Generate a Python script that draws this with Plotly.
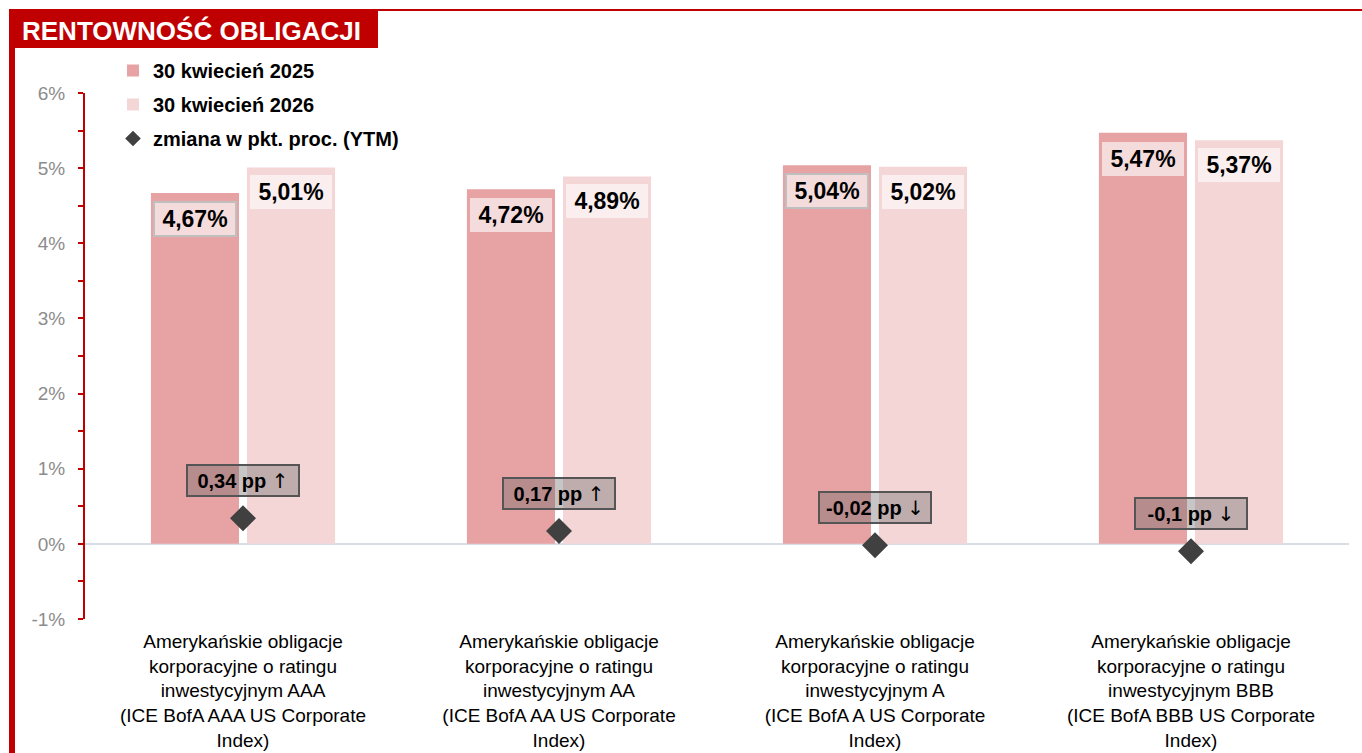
import plotly.graph_objects as go

categories = [
    "Amerykańskie obligacje<br>korporacyjne o ratingu<br>inwestycyjnym AAA<br>(ICE BofA AAA US Corporate<br>Index)",
    "Amerykańskie obligacje<br>korporacyjne o ratingu<br>inwestycyjnym AA<br>(ICE BofA AA US Corporate<br>Index)",
    "Amerykańskie obligacje<br>korporacyjne o ratingu<br>inwestycyjnym A<br>(ICE BofA A US Corporate<br>Index)",
    "Amerykańskie obligacje<br>korporacyjne o ratingu<br>inwestycyjnym BBB<br>(ICE BofA BBB US Corporate<br>Index)",
]
yield_2025 = [4.67, 4.72, 5.04, 5.47]
yield_2026 = [5.01, 4.89, 5.02, 5.37]
change_pp = [0.34, 0.17, -0.02, -0.10]
bordered_2025 = [True, False, True, False]

ytick_values = [-1, 0, 1, 2, 3, 4, 5, 6]
ytick_labels = ["-1%", "0%", "1%", "2%", "3%", "4%", "5%", "6%"]

series_names = ["30 kwiecień 2025", "30 kwiecień 2026", "zmiana w pkt. proc. (YTM)"]
title_text = "RENTOWNOŚĆ OBLIGACJI"

W, H = 1362, 753
ML, MR, MT, MB = 85, 13, 93, 134
PW = W - ML - MR
PH = H - MT - MB
FONT = "Liberation Sans, Arial, sans-serif"
RED = "#c00000"
C2025 = "#e7a2a3"
C2026 = "#f4d6d7"


def px(xp):
    return (xp - ML) / PW


def py(yp):
    return (H - MB - yp) / PH


def fmt_pct(v):
    return f"{v:.2f}".replace(".", ",") + "%"


def fmt_pp(v):
    s = f"{v:.2f}".rstrip("0").rstrip(".")
    arrow = "↑" if v > 0 else "↓"
    return ("<b>" + s.replace(".", ",") + " pp </b>"
            + '<span style="font-family:DejaVu Sans;font-weight:normal">' + arrow + "</span>")


fig = go.Figure()
fig.add_trace(go.Bar(x=categories, y=yield_2025, name=series_names[0],
                     marker=dict(color=C2025, line=dict(width=0)), legendgroup="a"))
fig.add_trace(go.Bar(x=categories, y=yield_2026, name=series_names[1],
                     marker=dict(color=C2026, line=dict(width=0)), legendgroup="b"))
fig.add_trace(go.Scatter(x=categories, y=change_pp, name=series_names[2], mode="markers",
                         marker=dict(symbol="diamond", size=20, color="#404040"),
                         legendgroup="c"))

annotations = []
for i, c in enumerate(categories):
    annotations.append(dict(
        x=c, y=yield_2025[i], xref="x", yref="y", xshift=-48, yshift=-26,
        text="<b>" + fmt_pct(yield_2025[i]) + "</b>", showarrow=False,
        font=dict(family=FONT, size=23, color="black"),
        bgcolor="#f5dcdc", bordercolor="#bfbfbf" if bordered_2025[i] else "rgba(0,0,0,0)",
        borderwidth=2, width=80, height=32, borderpad=0))
    annotations.append(dict(
        x=c, y=yield_2026[i], xref="x", yref="y", xshift=48, yshift=-25,
        text="<b>" + fmt_pct(yield_2026[i]) + "</b>", showarrow=False,
        font=dict(family=FONT, size=23, color="black"),
        bgcolor="#faeeee", borderwidth=0, width=82, height=34, borderpad=0))
    annotations.append(dict(
        x=c, y=change_pp[i] + 0.5, xref="x", yref="y",
        text=fmt_pp(change_pp[i]), showarrow=False,
        font=dict(family=FONT, size=20, color="black"),
        bgcolor="rgba(105,105,105,0.38)", bordercolor="#555555",
        borderwidth=2, width=110, height=29, borderpad=0))

annotations.append(dict(
    x=px(20), y=py(31), xref="paper", yref="paper", xanchor="left", yanchor="middle",
    text="<b>" + title_text + "</b>", showarrow=False,
    font=dict(family=FONT, size=26, color="white")))

shapes = [
    dict(type="rect", xref="paper", yref="paper", x0=px(9), x1=px(378), y0=py(48), y1=py(9),
         fillcolor=RED, line=dict(width=0), layer="above"),
    dict(type="rect", xref="paper", yref="paper", x0=px(9), x1=px(15), y0=py(H), y1=py(9),
         fillcolor=RED, line=dict(width=0), layer="above"),
    dict(type="rect", xref="paper", yref="paper", x0=px(9), x1=px(W), y0=py(11), y1=py(9),
         fillcolor=RED, line=dict(width=0), layer="above"),
]

fig.update_layout(
    width=W, height=H,
    margin=dict(l=ML, r=MR, t=MT, b=MB, autoexpand=False),
    paper_bgcolor="white", plot_bgcolor="white",
    barmode="group", bargap=0.392, bargroupgap=0.083,
    font=dict(family=FONT, color="black"),
    showlegend=True,
    legend=dict(x=px(113), y=py(51), xanchor="left", yanchor="top",
                font=dict(family=FONT, size=20, color="black", weight="bold"),
                traceorder="grouped", tracegroupgap=5,
                bgcolor="rgba(0,0,0,0)", itemsizing="constant", itemwidth=30),
    xaxis=dict(type="category", showline=False, ticks="", showgrid=False,
               tickfont=dict(family=FONT, size=19, color="black"),
               ticklabelstandoff=9),
    yaxis=dict(range=[-1, 6], tickmode="array", tickvals=ytick_values, ticktext=ytick_labels,
               showgrid=False,
               showline=True, linecolor=RED, linewidth=2,
               ticks="outside", ticklen=5, tickwidth=2, tickcolor=RED,
               minor=dict(dtick=0.5, ticks="outside", ticklen=5, tickwidth=2, tickcolor=RED),
               zeroline=True, zerolinecolor="#d9dde6", zerolinewidth=2,
               tickfont=dict(family=FONT, size=19, color="#8c8c8c"),
               ticklabelstandoff=9),
    annotations=annotations, shapes=shapes,
)

fig.write_html("out.html")
